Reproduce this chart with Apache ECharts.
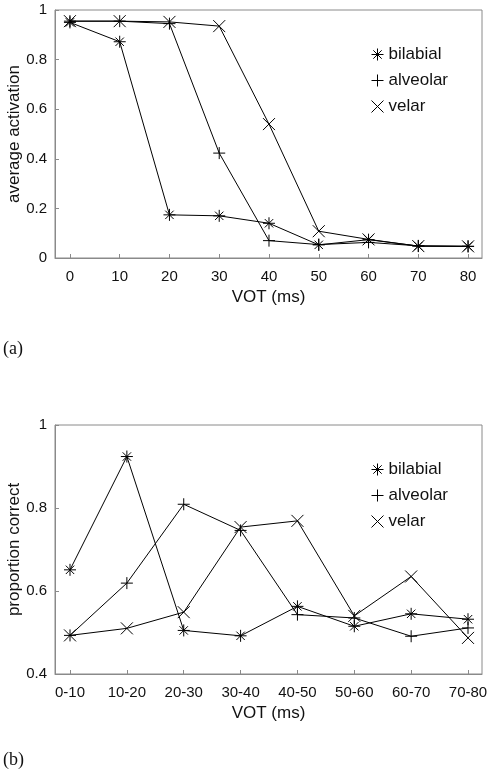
<!DOCTYPE html>
<html>
<head>
<meta charset="utf-8">
<script src="https://cdn.jsdelivr.net/npm/echarts@6/dist/echarts.min.js"></script>
<style>
html,body{margin:0;padding:0;background:#fff;}
#c{width:488px;height:770px;}
</style>
</head>
<body>
<div id="c"></div>
<script>
// ---- data ----
const seriesNames = ['bilabial', 'alveolar', 'velar'];

// (a) average activation vs VOT
const topVOT = [0, 10, 20, 30, 40, 50, 60, 70, 80];
const topBilabial = [0.950, 0.872, 0.174, 0.170, 0.140, 0.053, 0.074, 0.048, 0.047];
const topAlveolar = [0.955, 0.955, 0.945, 0.423, 0.070, 0.054, 0.063, 0.049, 0.047];
const topVelar    = [0.955, 0.955, 0.952, 0.935, 0.540, 0.108, 0.075, 0.048, 0.047];
const topYTicks = [0, 0.2, 0.4, 0.6, 0.8, 1];

// (b) proportion correct vs VOT range
const bottomCats = ['0-10', '10-20', '20-30', '30-40', '40-50', '50-60', '60-70', '70-80'];
const bottomBilabial = [0.651, 0.924, 0.505, 0.492, 0.563, 0.515, 0.545, 0.532];
const bottomAlveolar = [0.493, 0.619, 0.809, 0.746, 0.543, 0.535, 0.491, 0.511];
const bottomVelar    = [0.493, 0.510, 0.549, 0.754, 0.769, 0.540, 0.635, 0.487];
const bottomYTicks = [0.4, 0.6, 0.8, 1];

// ---- styling ----
const FONT = "'Liberation Sans', Arial, sans-serif";
const GREY = '#8a8a8a';
const SYM = {
  bilabial: 'path://M0,5L10,5M5,0L5,10M1.5,1.5L8.5,8.5M8.5,1.5L1.5,8.5',
  alveolar: 'path://M0,5L10,5M5,0L5,10',
  velar: 'path://M0,0L10,10M10,0L0,10'
};
const markStyle = {color: 'rgba(0,0,0,0)', borderColor: '#000', borderWidth: 1};

const chart = echarts.init(document.getElementById('c'), null, {renderer: 'canvas'});

function mkSeries(name, data, gi) {
  return {
    name: name, type: 'line', xAxisIndex: gi, yAxisIndex: gi,
    data: data, symbol: SYM[name], symbolSize: 12, showAllSymbol: true,
    lineStyle: {color: '#000', width: 1},
    itemStyle: markStyle,
    emphasis: {disabled: true},
    animation: false, z: 3
  };
}
const topData = arr => arr.map((v, i) => [topVOT[i], v]);
const botData = arr => arr.map((v, i) => [i, v]);
const catIdx = bottomCats.map((c, i) => i);

function xAxisBase() {
  return {
    type: 'value', position: 'bottom',
    axisLine: {show: true, onZero: false, lineStyle: {color: GREY, width: 1}},
    axisTick: {show: true, inside: true, length: 4, lineStyle: {color: GREY}},
    axisLabel: {color: '#111', fontSize: 15, fontFamily: FONT, margin: 11},
    splitLine: {show: false},
    nameLocation: 'middle', nameGap: 31,
    nameTextStyle: {color: '#111', fontSize: 17, fontFamily: FONT}
  };
}
function yAxisBase() {
  return {
    type: 'value', interval: 0.2, position: 'left',
    axisLine: {show: true, onZero: false, lineStyle: {color: GREY, width: 1}},
    axisTick: {show: true, inside: true, length: 4, lineStyle: {color: GREY}},
    axisLabel: {color: '#111', fontSize: 15, fontFamily: FONT, margin: 8},
    splitLine: {show: false},
    nameLocation: 'middle', nameGap: 32, nameMoveOverlap: false,
    nameTextStyle: {color: '#111', fontSize: 17, fontFamily: FONT}
  };
}

const legendData = seriesNames.map(n => ({name: n, icon: SYM[n]}));
function legendBase(top) {
  return {
    data: legendData, orient: 'vertical', left: 366, top: top,
    itemWidth: 12, itemHeight: 12, itemGap: 9,
    itemStyle: markStyle,
    textStyle: {color: '#111', fontSize: 17, fontFamily: FONT},
    selectedMode: false
  };
}

const gridBase = {show: true, borderColor: GREY, borderWidth: 1, backgroundColor: 'transparent',
  containLabel: false, outerBoundsMode: 'none'};

const option = {
  backgroundColor: '#fff',
  animation: false,
  grid: [
    Object.assign({left: 55, top: 10, width: 427, height: 248}, gridBase),
    Object.assign({left: 55, top: 425, width: 427, height: 249}, gridBase)
  ],
  xAxis: [
    Object.assign(xAxisBase(), {
      gridIndex: 0, min: -3, max: 82.8, name: 'VOT (ms)',
      axisTick: {show: true, inside: true, length: 4, lineStyle: {color: GREY}, customValues: topVOT},
      axisLabel: {color: '#111', fontSize: 15, fontFamily: FONT, margin: 11, customValues: topVOT}
    }),
    Object.assign(xAxisBase(), {
      gridIndex: 1, min: -0.264, max: 7.246, name: 'VOT (ms)',
      axisTick: {show: true, inside: true, length: 4, lineStyle: {color: GREY}, customValues: catIdx},
      axisLabel: {color: '#111', fontSize: 15, fontFamily: FONT, margin: 11, customValues: catIdx,
        formatter: v => bottomCats[Math.round(v)]}
    })
  ],
  yAxis: [
    Object.assign(yAxisBase(), {gridIndex: 0, min: topYTicks[0], max: topYTicks[topYTicks.length - 1], name: 'average activation'}),
    Object.assign(yAxisBase(), {gridIndex: 1, min: bottomYTicks[0], max: bottomYTicks[bottomYTicks.length - 1], name: 'proportion correct'})
  ],
  legend: [legendBase(41), legendBase(456)],
  series: [
    mkSeries('bilabial', topData(topBilabial), 0),
    mkSeries('alveolar', topData(topAlveolar), 0),
    mkSeries('velar', topData(topVelar), 0),
    mkSeries('bilabial', botData(bottomBilabial), 1),
    mkSeries('alveolar', botData(bottomAlveolar), 1),
    mkSeries('velar', botData(bottomVelar), 1)
  ],
  graphic: [
    {type: 'text', left: 3, top: 340, style: {text: '(a)', font: "18px 'Liberation Serif', 'Times New Roman', serif", fill: '#111'}},
    {type: 'text', left: 3, top: 751, style: {text: '(b)', font: "18px 'Liberation Serif', 'Times New Roman', serif", fill: '#111'}}
  ]
};
chart.setOption(option);
</script>
</body>
</html>
